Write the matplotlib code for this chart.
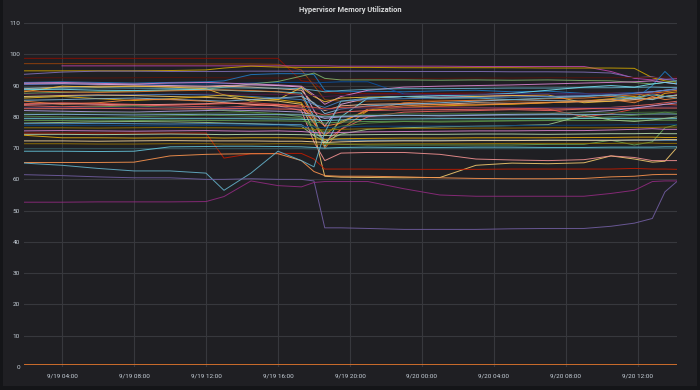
import numpy as np
import matplotlib
matplotlib.use("Agg")
import matplotlib.pyplot as plt

nan = np.nan

# ---- data ----
TITLE = "Hypervisor Memory Utilization"
# sample times, hours since 9/19 00:00
T = [1.9, 4, 6, 8, 10, 12, 13, 14.5, 16, 17.3, 18.0, 18.6, 19.5, 21, 23, 25, 27, 29, 31, 33, 34.5, 35.8, 36.8, 37.5, 38.2]
XTICKS = [4, 8, 12, 16, 20, 24, 28, 32, 36]
XLABELS = ["9/19 04:00", "9/19 08:00", "9/19 12:00", "9/19 16:00", "9/19 20:00",
           "9/20 00:00", "9/20 04:00", "9/20 08:00", "9/20 12:00"]
YTICKS = [0, 10, 20, 30, 40, 50, 60, 70, 80, 90, 100, 110]

s_red_top = [98.7, 98.7, 98.7, 98.7, 98.7, 98.7, 98.7, 98.7, 98.7, 91.5, 91.0, 87.8, 87.5, 87.5, 87.5, 87.5, 87.6, 87.6, 87.5, 87.5, 87.6, 87.8, 88.0, 87.5, 87.4]
s_brown = [97.0, 97.0, 97.0, 96.9, 96.9, 96.9, 96.9, 96.9, 96.8, 95.0, 90.0, 85.5, 85.0, 85.0, 85.2, 85.3, 85.2, 85.0, 85.1, 85.3, 85.5, 85.0, 86.0, 86.5, 86.2]
s_magenta = [nan, 96.3, 96.3, 96.3, 96.3, 96.3, 96.3, 96.3, 96.3, 96.3, 96.3, 96.3, 96.2, 96.2, 96.2, 96.2, 96.1, 96.1, 96.1, 96.1, 94.5, 92.3, 91.8, 92.0, 92.2]
s_olive = [94.7, 94.7, 94.7, 94.7, 94.8, 95.0, 95.6, 96.2, 95.9, 95.8, 95.8, 95.8, 95.8, 95.8, 95.7, 95.7, 95.7, 95.7, 95.6, 95.6, 95.6, 95.5, 92.5, 91.5, 91.0]
s_lav = [93.6, 94.3, 94.6, 94.6, 94.5, 94.5, 94.5, 94.6, 94.6, 94.6, 94.6, 94.6, 94.6, 94.6, 94.5, 94.5, 94.5, 94.4, 94.4, 94.3, 94.0, 92.5, 92.8, 92.0, 91.5]
s_x11 = [92.5, 92.5, 92.4, 92.5, 92.6, 92.5, 92.5, 92.4, 92.4, 92.3, 92.0, 91.8, 92.0, 92.2, 92.3, 92.3, 92.4, 92.4, 92.5, 92.5, 92.5, 92.6, 92.6, 92.7, 92.7]
s_blue1 = [91.0, 91.2, 91.0, 90.8, 91.0, 91.2, 91.5, 93.5, 93.8, 93.8, 93.5, 88.5, 88.0, 88.2, 88.0, 88.3, 88.5, 88.0, 88.2, 87.5, 86.5, 85.5, 90.0, 94.5, 90.7]
s_dblue = [90.3, 90.5, 90.4, 90.3, 90.5, 90.5, 90.6, 90.8, 91.0, 91.0, 90.8, 91.0, 91.2, 91.2, 87.3, 87.0, 87.2, 87.5, 87.4, 87.3, 87.5, 87.8, 88.0, 88.4, 88.6]
s_green = [87.5, 87.8, 88.0, 88.2, 88.5, 88.8, 89.5, 90.5, 91.3, 93.0, 94.0, 92.3, 91.8, 91.8, 91.8, 91.7, 91.8, 91.7, 91.8, 91.6, 91.5, 91.0, 90.5, 91.0, 91.5]
s_x14 = [90.8, 91.0, 90.7, 90.5, 90.8, 91.0, 90.8, 90.5, 90.2, 89.8, 87.0, 84.0, 86.5, 88.5, 89.5, 89.8, 90.0, 90.2, 90.5, 90.8, 91.0, 91.2, 91.5, 91.0, 90.5]
s_pink = [90.5, 90.6, 90.4, 90.2, 90.0, 89.8, 90.0, 90.2, 90.0, 89.5, 82.0, 77.0, 84.0, 86.0, 86.5, 86.3, 86.5, 86.8, 86.5, 86.6, 87.0, 87.5, 88.0, 88.5, 89.0]
s_peach = [89.0, 89.5, 89.8, 89.8, 89.6, 89.5, 89.8, 89.5, 89.0, 88.5, 84.0, 82.0, 83.5, 84.0, 84.2, 84.0, 84.5, 84.3, 84.6, 84.8, 85.0, 85.5, 86.0, 86.5, 86.8]
s_x7 = [89.2, 89.2, 89.3, 89.2, 89.1, 89.2, 89.3, 89.2, 89.2, 89.0, 88.5, 88.0, 88.4, 88.8, 89.0, 89.0, 89.1, 89.2, 89.2, 89.3, 89.3, 89.4, 89.5, 89.4, 89.4]
s_yellow = [88.0, 89.8, 89.5, 89.8, 89.5, 89.0, 87.0, 85.0, 85.5, 89.4, 86.5, 84.8, 86.0, 86.3, 86.5, 86.0, 86.5, 86.8, 87.0, 84.5, 85.0, 86.0, 87.5, 86.5, 87.0]
s_lcyan = [88.7, 88.8, 88.5, 88.4, 88.6, 88.8, 88.5, 88.2, 88.0, 87.6, 80.0, 70.5, 80.0, 86.0, 86.5, 86.8, 87.0, 87.5, 88.5, 89.5, 90.0, 89.5, 90.5, 91.0, 90.5]
s_x3 = [88.3, 88.0, 87.8, 88.0, 88.3, 88.5, 88.6, 88.4, 88.0, 87.0, 79.0, 70.0, 76.0, 82.0, 84.5, 85.0, 85.3, 85.5, 85.8, 86.0, 86.5, 87.0, 87.5, 88.0, 88.5]
s_x12 = [87.2, 87.3, 87.2, 87.1, 87.2, 87.3, 87.3, 87.2, 87.2, 87.0, 86.8, 86.5, 86.8, 87.0, 87.1, 87.1, 87.2, 87.2, 87.3, 87.3, 87.3, 87.4, 87.4, 87.5, 87.5]
s_blue2 = [86.3, 86.5, 86.8, 87.0, 87.2, 87.0, 86.8, 86.5, 86.0, 85.5, 84.0, 83.0, 85.0, 85.5, 85.8, 86.0, 86.2, 86.3, 86.5, 86.8, 87.0, 87.5, 88.0, 88.5, 89.0]
s_khaki2 = [86.5, 86.8, 87.0, 86.8, 86.5, 86.2, 86.0, 85.5, 85.0, 84.0, 75.0, 61.0, 60.7, 60.6, 60.5, 60.6, 64.5, 65.2, 65.0, 65.3, 67.5, 66.5, 65.5, 65.8, 70.4]
s_x5 = [86.0, 86.5, 85.8, 85.2, 85.8, 86.5, 87.0, 86.2, 85.5, 84.5, 78.0, 74.0, 78.5, 82.0, 83.0, 83.5, 83.8, 84.0, 84.5, 85.0, 85.8, 86.5, 85.5, 87.5, 88.0]
s_x1 = [85.3, 85.5, 85.8, 86.0, 85.6, 85.2, 85.0, 85.5, 86.0, 86.5, 84.5, 81.0, 82.5, 83.5, 84.0, 84.5, 85.0, 85.5, 85.2, 85.0, 85.5, 86.0, 85.5, 86.5, 87.0]
s_orange = [85.0, 84.0, 84.5, 85.5, 85.5, 85.0, 84.5, 84.0, 83.5, 83.0, 80.0, 77.0, 78.0, 82.5, 83.5, 84.0, 83.8, 84.2, 84.5, 85.0, 85.5, 84.5, 86.5, 85.5, 86.0]
s_red = [84.2, 84.5, 84.3, 84.0, 83.8, 84.0, 84.2, 84.5, 84.0, 83.5, 83.0, 82.5, 83.0, 83.2, 83.0, 83.2, 83.0, 82.8, 82.5, 80.0, 81.0, 82.5, 83.5, 84.0, 83.8]
s_peach2 = [84.0, 84.2, 84.0, 83.8, 84.0, 84.2, 84.5, 84.0, 83.5, 82.0, 72.0, 66.0, 68.4, 68.6, 68.6, 68.0, 66.5, 66.2, 66.0, 66.3, 67.5, 67.0, 66.0, 66.0, 66.0]
s_salmon = [83.6, 83.2, 83.5, 83.8, 83.5, 83.2, 83.0, 83.5, 84.0, 83.0, 78.0, 72.0, 76.0, 80.0, 81.5, 81.8, 82.0, 82.3, 82.0, 82.5, 83.0, 83.5, 84.0, 84.5, 85.0]
s_green2 = [83.0, 82.8, 83.2, 83.5, 83.0, 82.5, 82.0, 81.5, 81.0, 80.0, 76.0, 71.5, 71.2, 71.0, 71.0, 71.0, 71.0, 71.0, 71.2, 71.2, 72.5, 71.0, 72.0, 76.5, 77.5]
s_x13 = [83.0, 83.0, 82.9, 83.0, 83.1, 83.0, 83.0, 82.9, 82.9, 82.8, 82.5, 82.3, 82.5, 82.7, 82.8, 82.8, 82.9, 82.9, 83.0, 83.0, 83.0, 83.1, 83.1, 83.2, 83.2]
s_x8 = [82.6, 82.6, 82.7, 82.6, 82.5, 82.6, 82.7, 82.6, 82.5, 82.4, 81.5, 80.5, 81.5, 82.0, 82.2, 82.3, 82.4, 82.5, 82.5, 82.6, 82.6, 82.7, 82.8, 82.8, 82.8]
s_lav2 = [82.0, 81.8, 81.6, 81.5, 81.8, 82.0, 82.2, 82.0, 81.8, 81.5, 80.5, 79.5, 80.0, 80.2, 80.5, 80.3, 80.5, 80.8, 81.0, 81.5, 82.0, 82.8, 83.5, 84.0, 84.5]
s_x4 = [81.2, 81.2, 81.3, 81.2, 81.1, 81.2, 81.3, 81.2, 81.0, 80.8, 80.5, 80.3, 80.5, 80.8, 81.0, 81.0, 81.1, 81.2, 81.2, 81.3, 81.3, 81.4, 81.5, 81.5, 81.6]
s_x2 = [80.7, 80.8, 80.7, 80.6, 80.7, 80.8, 80.8, 80.7, 80.7, 80.6, 80.3, 80.0, 80.2, 80.4, 80.5, 80.5, 80.6, 80.6, 80.7, 80.7, 80.8, 80.8, 80.9, 80.9, 80.9]
s_dgreen = [80.2, 80.0, 79.8, 80.0, 80.3, 80.5, 80.4, 80.2, 80.0, 79.5, 77.0, 75.0, 77.0, 78.0, 78.5, 78.3, 78.5, 78.8, 79.0, 79.5, 80.0, 80.5, 81.0, 81.5, 81.0]
s_cyan = [79.4, 79.4, 79.4, 79.4, 79.4, 79.4, 79.4, 79.4, 79.3, 79.2, 79.0, 78.8, 79.0, 79.2, 79.3, 79.4, 79.4, 79.4, 79.5, 79.5, 79.5, 79.5, 79.4, 79.4, 79.4]
s_x9 = [78.8, 78.8, 78.7, 78.8, 78.9, 78.8, 78.8, 78.7, 78.7, 78.6, 78.3, 78.0, 78.3, 78.5, 78.6, 78.6, 78.7, 78.7, 78.8, 78.8, 78.8, 78.9, 78.9, 78.9, 78.9]
s_lgreen = [78.0, 78.2, 78.4, 78.5, 78.4, 78.2, 78.0, 77.8, 77.5, 77.0, 74.0, 72.0, 74.5, 76.0, 76.5, 76.8, 77.0, 77.2, 77.5, 80.5, 79.0, 78.5, 79.0, 79.5, 80.0]
s_steel = [77.8, 77.8, 77.9, 77.8, 77.7, 77.8, 77.8, 77.7, 77.6, 77.5, 75.0, 72.8, 72.6, 72.5, 72.5, 72.5, 72.5, 72.5, 72.5, 72.5, 72.5, 72.5, 72.5, 72.5, 72.5]
s_navy = [77.2, 77.2, 77.3, 77.2, 77.1, 77.2, 77.3, 77.2, 77.2, 77.0, 76.8, 76.5, 76.8, 77.0, 77.0, 77.1, 77.0, 77.2, 77.3, 77.3, 77.4, 77.5, 77.5, 77.6, 77.6]
s_x10 = [76.5, 76.5, 76.4, 76.5, 76.6, 76.5, 76.5, 76.4, 76.4, 76.3, 76.0, 75.8, 76.0, 76.2, 76.3, 76.3, 76.4, 76.4, 76.5, 76.5, 76.5, 76.6, 76.6, 76.7, 76.7]
s_orchid = [75.5, 75.6, 75.5, 75.4, 75.5, 75.6, 75.5, 75.4, 75.5, 75.3, 75.0, 74.8, 75.0, 75.2, 75.3, 75.4, 75.5, 75.5, 75.6, 75.6, 75.8, 76.0, 76.2, 76.0, 76.0]
s_red_f = [74.8, 74.8, 74.8, 74.8, 74.8, 74.8, 66.8, 68.2, 68.3, 68.3, 66.5, 63.3, 63.3, 63.3, 63.2, 63.2, 63.2, 63.3, 63.3, 63.3, 63.3, 63.5, 63.3, 63.3, 63.2]
s_pgreen = [74.4, 74.4, 74.3, 74.4, 74.5, 74.4, 74.3, 74.4, 74.4, 74.3, 74.2, 74.0, 74.2, 74.3, 74.4, 74.4, 74.5, 74.5, 74.4, 74.5, 74.6, 74.6, 74.7, 74.6, 74.6]
s_khaki1 = [74.1, 73.3, 73.3, 73.2, 73.3, 73.3, 73.2, 73.3, 73.3, 73.2, 73.0, 72.8, 73.0, 73.1, 73.2, 73.2, 73.3, 73.3, 73.3, 73.4, 73.4, 73.5, 73.5, 73.4, 73.4]
s_lyel = [72.3, 72.3, 72.2, 72.3, 72.4, 72.3, 72.3, 72.3, 72.2, 72.2, 72.0, 71.8, 72.0, 72.2, 72.3, 72.3, 72.4, 72.4, 72.5, 72.5, 72.5, 72.6, 72.6, 72.7, 72.7]
s_bolive = [71.4, 71.4, 71.3, 71.3, 71.4, 71.4, 71.3, 71.3, 71.4, 71.4, 71.3, 71.2, 71.3, 71.3, 71.4, 71.4, 71.4, 71.5, 71.5, 71.5, 71.5, 71.6, 71.6, 71.5, 71.5]
s_teal = [69.8, 69.8, 69.8, 69.8, 69.8, 69.8, 69.8, 69.8, 69.8, 69.8, 69.7, 69.7, 69.8, 69.8, 69.8, 69.8, 69.8, 69.8, 69.9, 69.9, 69.9, 69.9, 69.9, 69.9, 69.9]
s_cyan2 = [69.0, 69.0, 68.9, 69.0, 70.4, 70.5, 70.6, 70.6, 70.5, 70.4, 70.2, 70.0, 70.2, 70.3, 70.2, 70.2, 70.3, 70.3, 70.2, 70.2, 70.3, 70.3, 70.3, 70.4, 70.4]
s_orange_e = [65.4, 65.4, 65.4, 65.5, 67.5, 68.0, 68.1, 68.2, 68.2, 66.0, 62.5, 61.2, 61.0, 61.0, 60.8, 60.5, 60.3, 60.2, 60.2, 60.3, 60.8, 61.0, 61.5, 61.6, 61.6]
s_cyan_d = [65.2, 64.5, 63.5, 62.7, 62.7, 62.0, 56.5, 62.0, 69.0, 66.0, 64.0, 75.0, 85.0, 86.0, 86.5, 86.0, 86.0, 85.5, 86.0, 86.5, 87.0, 86.0, 87.0, 86.5, 86.0]
s_violet = [61.5, 61.2, 60.8, 60.5, 60.5, 60.0, 60.0, 60.2, 60.0, 60.0, 59.5, 44.5, 44.5, 44.3, 44.0, 44.0, 44.0, 44.2, 44.3, 44.3, 45.0, 46.0, 47.5, 56.0, 59.5]
s_purple = [52.7, 52.7, 52.8, 52.8, 52.8, 52.9, 54.5, 59.5, 58.0, 57.6, 59.0, 59.3, 59.3, 59.3, 57.0, 55.0, 54.6, 54.6, 54.6, 54.6, 55.5, 56.5, 59.3, 59.5, 59.5]
s_bottom = [1.0, 1.0, 1.0, 1.0, 1.0, 1.0, 1.0, 1.0, 1.0, 1.0, 1.0, 1.0, 1.0, 1.0, 1.0, 1.0, 1.0, 1.0, 1.0, 1.0, 1.0, 1.0, 1.0, 1.0, 1.0]

SERIES = [s_red_top, s_brown, s_magenta, s_olive, s_lav, s_x11, s_blue1, s_dblue, s_green, s_x14,
          s_pink, s_peach, s_x7, s_yellow, s_lcyan, s_x3, s_x12, s_blue2, s_khaki2, s_x5,
          s_x1, s_orange, s_red, s_peach2, s_salmon, s_green2, s_x13, s_x8, s_lav2, s_x4,
          s_x2, s_dgreen, s_cyan, s_x9, s_lgreen, s_steel, s_navy, s_x10, s_orchid, s_red_f,
          s_pgreen, s_khaki1, s_lyel, s_bolive, s_teal, s_cyan2, s_orange_e, s_cyan_d, s_violet, s_purple,
          s_bottom]
COLORS = ["#890F02", "#99440A", "#BA43A9", "#CCA300", "#806EB7", "#58140C", "#1F78C1", "#0A50A1", "#7EB26D", "#D683CE",
          "#E5A8E2", "#F9BA8F", "#64B0C8", "#EAB839", "#70DBED", "#E0752D", "#511749", "#447EBC", "#F2C96D", "#E5AC0E",
          "#82B5D8", "#EF843C", "#E24D42", "#F29191", "#EA6460", "#629E51", "#3F2B5B", "#EA6460", "#AEA2E0", "#3F6833",
          "#82B5D8", "#508642", "#6ED0E0", "#629E51", "#9AC48A", "#5195CE", "#0A437C", "#967302", "#D683CE", "#BF1B00",
          "#B7DBAB", "#E5AC0E", "#F4D598", "#967302", "#2F575E", "#65C5DB", "#F9934E", "#64B0C8", "#705DA0", "#8F2A7E",
          "#E0752D"]

# ---- drawing ----
W, H = 700, 390
fig = plt.figure(figsize=(W / 100, H / 100), dpi=100, facecolor="#141518")

# panel background as its own axes, behind the plot
bg = fig.add_axes([3 / W, 4 / H, 694 / W, 386 / H], zorder=-5)
bg.set_facecolor("#1f1f23")
bg.set_xticks([])
bg.set_yticks([])
for sp in bg.spines.values():
    sp.set_visible(False)

ax = fig.add_axes([24 / W, 23 / H, 653 / W, 344 / H], zorder=1)
ax.set_facecolor("none")
for sp in ax.spines.values():
    sp.set_visible(False)

for vals, col in zip(SERIES, COLORS):
    ax.plot(T, vals, color=col, lw=0.7, alpha=0.9, solid_joinstyle="round")

ax.set_xlim(1.89, 38.17)
ax.set_ylim(0, 110)
ax.set_yticks(YTICKS)
ax.set_yticklabels([str(v) for v in YTICKS])
ax.set_xticks(XTICKS)
ax.set_xticklabels(XLABELS)
ax.grid(True, color="#37383d", lw=0.8)
ax.set_axisbelow(True)
ax.tick_params(axis="both", length=0, labelsize=4.6, labelcolor="#c7d0d9")
ax.tick_params(axis="y", pad=3)
ax.tick_params(axis="x", pad=5)
for lab in ax.get_xticklabels() + ax.get_yticklabels():
    lab.set_family("Roboto")

fig.text(0.5, 1 - 10 / H, TITLE, ha="center", va="center", fontsize=5.4,
         fontweight="bold", color="#d8d9da", family="Roboto")

fig.savefig("out.png", dpi=100, facecolor=fig.get_facecolor())
